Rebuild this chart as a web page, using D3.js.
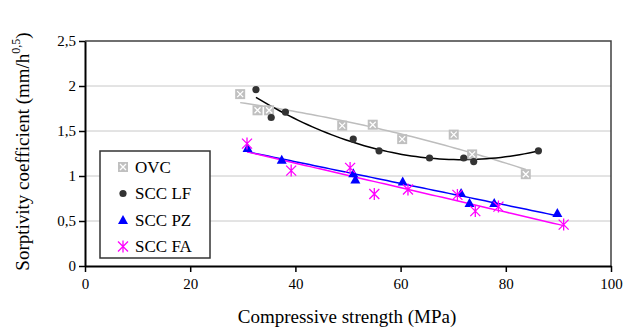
<!DOCTYPE html>
<html>
<head>
<meta charset="utf-8">
<script src="https://cdn.jsdelivr.net/npm/d3@7"></script>
<style>
  body { margin: 0; background: #fff; }
  svg text, svg tspan { font-family: "Liberation Serif", "Times New Roman", Tinos, serif !important; }
</style>
</head>
<body>
<svg id="chart" width="628" height="330"></svg>
<script>
// Values: [compressive strength, sorptivity]
const ovc = [[29.5, 1.91], [32.8, 1.73], [35.0, 1.73], [48.9, 1.56], [54.7, 1.57],
  [60.3, 1.41], [70.1, 1.46], [73.6, 1.24], [83.8, 1.02]];
const sccLF = [[32.5, 1.96], [35.4, 1.65], [38.1, 1.71], [51.0, 1.41], [55.9, 1.28],
  [65.5, 1.20], [72.0, 1.20], [73.9, 1.16], [86.2, 1.28]];
const sccPZ = [[30.9, 1.31], [37.4, 1.18], [51.0, 1.03], [51.4, 0.96], [60.4, 0.94],
  [71.5, 0.81], [73.1, 0.70], [77.8, 0.70], [89.8, 0.59]];
const sccFA = [[30.8, 1.36], [39.2, 1.06], [50.4, 1.09], [55.0, 0.80], [61.4, 0.85],
  [70.8, 0.79], [74.2, 0.61], [78.6, 0.66], [91.0, 0.46]];

const xTicks = [0, 20, 40, 60, 80, 100];
const yTicks = [0, 0.5, 1, 1.5, 2, 2.5];

const svg = d3.select('svg#chart');
const plot = { left: 85, right: 611, top: 41, bottom: 266 };

const x = d3.scaleLinear().domain([0, 100]).range([plot.left, plot.right]);
const y = d3.scaleLinear().domain([0, 2.5]).range([plot.bottom, plot.top]);

// least squares polynomial fit (order 1 or 2), like a spreadsheet trendline
const polyFit = (pts, order) => {
  const n = order + 1;
  const A = Array.from({ length: n }, () => new Array(n + 1).fill(0));
  pts.forEach(([px, py]) => {
    for (let i = 0; i < n; i++) {
      for (let j = 0; j < n; j++) A[i][j] += Math.pow(px, i + j);
      A[i][n] += py * Math.pow(px, i);
    }
  });
  for (let c = 0; c < n; c++) {
    for (let r = c + 1; r < n; r++) {
      const f = A[r][c] / A[c][c];
      for (let k = c; k <= n; k++) A[r][k] -= f * A[c][k];
    }
  }
  const coef = new Array(n).fill(0);
  for (let r = n - 1; r >= 0; r--) {
    let s = A[r][n];
    for (let k = r + 1; k < n; k++) s -= A[r][k] * coef[k];
    coef[r] = s / A[r][r];
  }
  return v => coef.reduce((acc, c, i) => acc + c * Math.pow(v, i), 0);
};

const trend = (pts, order) => {
  const f = polyFit(pts, order);
  const [x0, x1] = d3.extent(pts, d => d[0]);
  return d3.range(x0, x1 + 0.01, (x1 - x0) / 60).map(v => [v, f(v)]);
};

// gridlines
svg.append('g')
  .selectAll('line')
  .data(yTicks.filter(t => t > 0 && t < 2.5))
  .enter()
  .append('line')
  .attr('x1', plot.left).attr('x2', plot.right)
  .attr('y1', d => y(d)).attr('y2', d => y(d))
  .attr('stroke', '#c8c8c8')
  .attr('stroke-width', 1);

// frame top/right
svg.append('path')
  .attr('d', `M${plot.left},${plot.top}H${plot.right}V${plot.bottom}`)
  .attr('fill', 'none')
  .attr('stroke', '#404040')
  .attr('stroke-width', 1.5);

// axes
const xAxis = svg.append('g')
  .attr('transform', `translate(0,${plot.bottom})`)
  .call(d3.axisBottom(x).tickValues(xTicks).tickSize(6).tickSizeOuter(0));
const yAxis = svg.append('g')
  .attr('transform', `translate(${plot.left},0)`)
  .call(d3.axisLeft(y).tickValues(yTicks).tickSize(6).tickSizeOuter(0)
    .tickFormat(d => String(d).replace('.', ',')));

[xAxis, yAxis].forEach(a => {
  a.attr('font-family', null);
  a.select('.domain').attr('stroke', '#000').attr('stroke-width', 2);
  a.selectAll('.tick line').attr('stroke', '#000').attr('stroke-width', 1.5);
  a.selectAll('.tick text').attr('fill', '#000').attr('font-size', 15);
});
xAxis.selectAll('.tick text').attr('dy', '0.95em');
yAxis.selectAll('.tick text').attr('x', -9);

// axis titles
svg.append('text')
  .attr('x', (plot.left + plot.right) / 2 - 1)
  .attr('y', 323)
  .attr('text-anchor', 'middle')
  .attr('font-size', 19)
  .text('Compressive strength (MPa)');

const yTitle = svg.append('text')
  .attr('transform', `translate(29,${(plot.top + plot.bottom) / 2 - 2}) rotate(-90)`)
  .attr('text-anchor', 'middle')
  .attr('font-size', 19);
yTitle.append('tspan').text('Sorptivity coefficient (mm/h');
yTitle.append('tspan').attr('font-size', 12).attr('dy', -9).text('0,5');
yTitle.append('tspan').attr('dy', 9).text(')');

// trend lines
const line = d3.line().x(d => x(d[0])).y(d => y(d[1]));
const series = [
  { name: 'OVC', data: ovc, order: 2, color: '#bdbdbd' },
  { name: 'SCC LF', data: sccLF, order: 2, color: '#000000' },
  { name: 'SCC PZ', data: sccPZ, order: 1, color: '#0000ff' },
  { name: 'SCC FA', data: sccFA, order: 1, color: '#ff00ff' }
];

svg.append('g')
  .selectAll('path')
  .data(series)
  .enter()
  .append('path')
  .attr('fill', 'none')
  .attr('stroke', d => d.color)
  .attr('stroke-width', 1.5)
  .attr('d', d => line(trend(d.data, d.order)));

// markers
const drawMarker = (g, name) => {
  switch (name) {
    case 'OVC':
      g.append('rect').attr('x', -5).attr('y', -5).attr('width', 10).attr('height', 10)
        .attr('fill', '#c0c0c0');
      g.append('path').attr('d', 'M-3,-3L3,3M-3,3L3,-3')
        .attr('stroke', '#fff').attr('stroke-width', 1.3);
      break;
    case 'SCC LF':
      g.append('circle').attr('r', 3.6).attr('fill', '#333');
      break;
    case 'SCC PZ':
      g.append('path').attr('d', 'M0,-5L5,4L-5,4Z').attr('fill', '#0000ff');
      break;
    default:
      g.append('path').attr('d', 'M0,-6V6M-5,-5L5,5M-5,5L5,-5')
        .attr('stroke', '#ff00ff').attr('stroke-width', 1.3);
  }
};

series.forEach(s => {
  svg.append('g')
    .selectAll('g')
    .data(s.data)
    .enter()
    .append('g')
    .attr('transform', d => `translate(${x(d[0])},${y(d[1])})`)
    .each(function () { drawMarker(d3.select(this), s.name); });
});

// legend
const legend = svg.append('g').attr('transform', 'translate(100,151)');
legend.append('rect')
  .attr('width', 110).attr('height', 107)
  .attr('fill', '#fff')
  .attr('stroke', '#333').attr('stroke-width', 1.5);
series.forEach((s, i) => {
  const row = legend.append('g').attr('transform', `translate(23,${16 + i * 26.5})`);
  drawMarker(row, s.name);
  row.append('text')
    .attr('x', 12).attr('y', 0).attr('dy', '0.35em')
    .attr('font-size', 17)
    .text(s.name);
});
</script>
</body>
</html>
